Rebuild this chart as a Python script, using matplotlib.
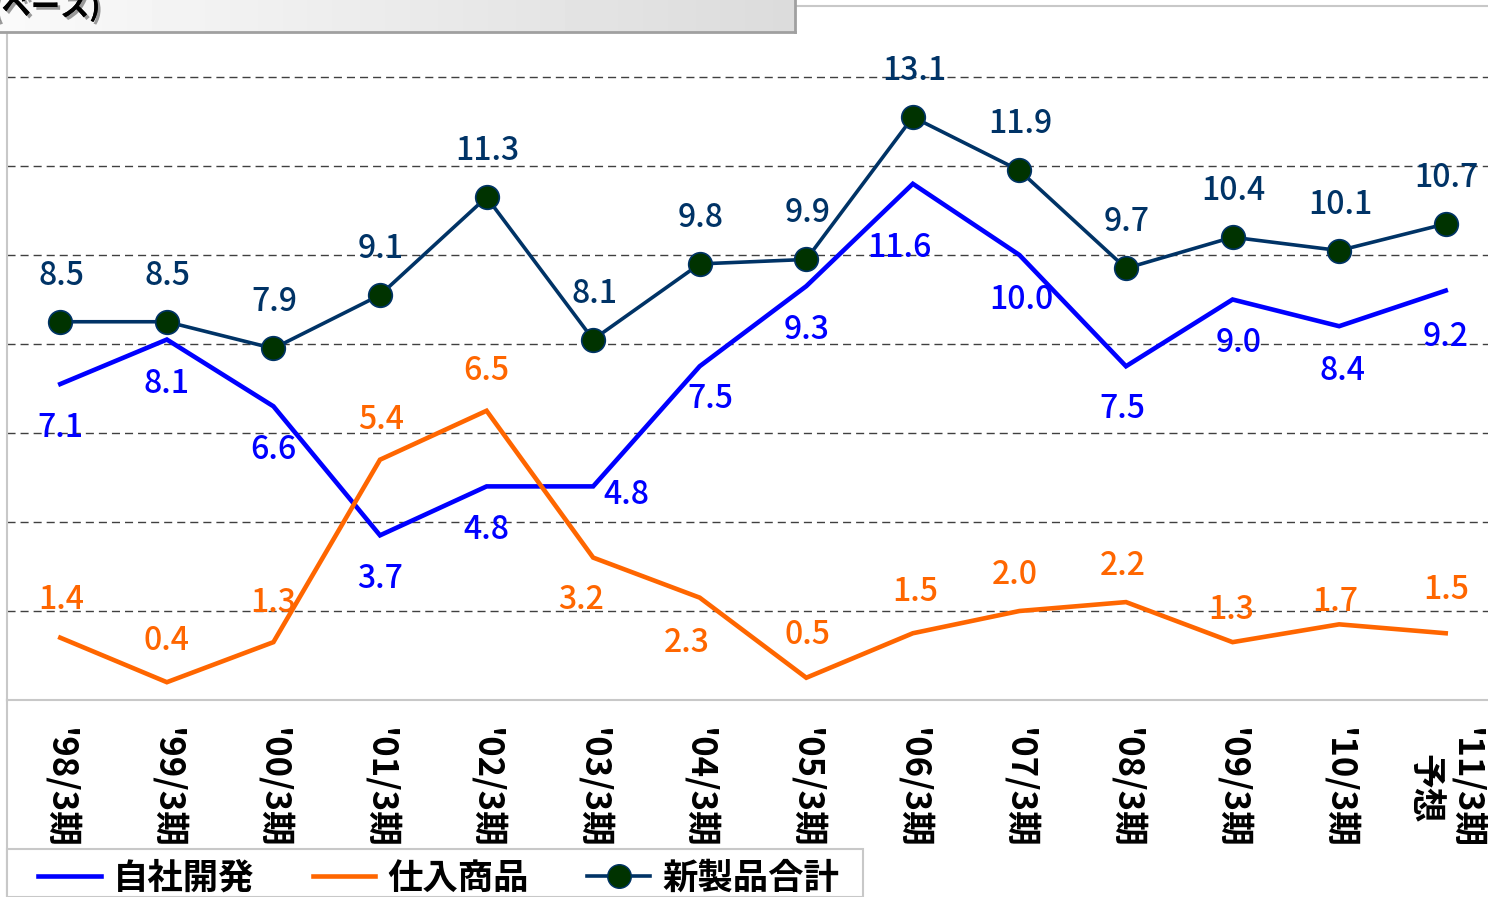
"""
新製品売上高比率 (自社開発 / 仕入商品 / 新製品合計) line chart.
"""
import matplotlib
matplotlib.use("Agg")
import matplotlib.pyplot as plt
import matplotlib.patheffects as pe
import numpy as np
from matplotlib.lines import Line2D
from matplotlib.patches import Rectangle

# --- data ---
PERIODS = ["'98/3期", "'99/3期", "'00/3期", "'01/3期", "'02/3期", "'03/3期", "'04/3期",
           "'05/3期", "'06/3期", "'07/3期", "'08/3期", "'09/3期", "'10/3期", "'11/3期\n予想"]
OWN_DEV = [7.1, 8.1, 6.6, 3.7, 4.8, 4.8, 7.5, 9.3, 11.6, 10.0, 7.5, 9.0, 8.4, 9.2]
PURCHASED = [1.4, 0.4, 1.3, 5.4, 6.5, 3.2, 2.3, 0.5, 1.5, 2.0, 2.2, 1.3, 1.7, 1.5]
TOTAL = [8.5, 8.5, 7.9, 9.1, 11.3, 8.1, 9.8, 9.9, 13.1, 11.9, 9.7, 10.4, 10.1, 10.7]
SERIES_NAMES = ["自社開発", "仕入商品", "新製品合計"]

# --- style ---
W, H = 1488, 897
FONT = ["Noto Sans CJK JP", "DejaVu Sans"]
BLUE = "#0000FF"
ORANGE = "#FF6600"
NAVY = "#003366"
MARKER_FILL = "#003300"
FRAME = "#c8c8c8"

# label offsets in pixels (dx, dy), per point
OWN_OFFS = [(0, -44)] * 5 + [(33, -9), (11, -33), (0, -44), (-13, -64), (2, -45),
                             (-4, -43), (6, -44), (3, -45), (0, -46)]
PUR_OFFS = [(1, 38), (0, 41), (0, 39), (1, 40), (0, 40), (-12, -42), (-13, -45),
            (1, 43), (2, 41), (-5, 36), (-3, 36), (-1, 32), (-4, 22), (1, 43)]
TOT_OFFS = [(1, 46)] * 14

plt.rcParams["font.family"] = FONT

fig = plt.figure(figsize=(W / 100, H / 100), dpi=100)
ax_left, ax_right = 7, 1499
ax_top, ax_bottom = 6, 700
ax = fig.add_axes([ax_left / W, 1 - ax_bottom / H,
                   (ax_right - ax_left) / W, (ax_bottom - ax_top) / H])

x = np.arange(len(PERIODS))
ax.plot(x, OWN_DEV, color=BLUE, lw=3.3, zorder=3, solid_joinstyle="miter")
ax.plot(x, PURCHASED, color=ORANGE, lw=3.3, zorder=3, solid_joinstyle="miter")
ax.plot(x, TOTAL, color=NAVY, lw=2.6, zorder=4, marker="o", ms=17,
        markerfacecolor=MARKER_FILL, markeredgecolor=NAVY, markeredgewidth=1.2)

for vals, offs, col in [(OWN_DEV, OWN_OFFS, BLUE), (PURCHASED, PUR_OFFS, ORANGE),
                        (TOTAL, TOT_OFFS, NAVY)]:
    for i, (v, (dx, dy)) in enumerate(zip(vals, offs)):
        ax.annotate(f"{v:.1f}", (i, v), xytext=(dx, dy), textcoords="offset pixels",
                    ha="center", va="center", fontsize=23, fontweight="medium",
                    color=col, zorder=5)

ax.set_xlim(-0.5, len(PERIODS) - 0.5)
ax.set_ylim(0, (ax_bottom - ax_top) / 44.5)
ax.set_yticks(np.arange(2, 15, 2))
ax.set_yticklabels([])
ax.tick_params(axis="y", length=0)
ax.yaxis.grid(True, color="#404040", lw=1.0, ls=(0, (5.8, 3.6)))
ax.set_axisbelow(True)

ax.set_xticks(x)
ax.set_xticklabels(PERIODS, rotation=270, fontsize=25, fontweight="bold",
                   va="top", ha="center", multialignment="center")
ax.tick_params(axis="x", length=0, pad=20)

for side in ["left", "bottom", "top"]:
    ax.spines[side].set_color(FRAME)
    ax.spines[side].set_linewidth(1.5)
ax.spines["right"].set_visible(False)

# frame line continuing below plot area
fig.add_artist(Line2D([ax_left / W] * 2, [0, 1 - ax_bottom / H],
                      color=FRAME, lw=1.5, transform=fig.transFigure))

# title box (mostly cut off at the top)
tax = fig.add_axes([0, 1 - 32 / H, 795 / W, 32 / H], zorder=10)
grad = np.linspace(0.98, 0.86, 256).reshape(1, -1)
tax.imshow(grad, cmap="gray", vmin=0, vmax=1, aspect="auto", extent=(0, 1, 0, 1))
tax.set_xticks([])
tax.set_yticks([])
for side in ["top", "left"]:
    tax.spines[side].set_visible(False)
for side in ["right", "bottom"]:
    tax.spines[side].set_color("#a0a0a0")
    tax.spines[side].set_linewidth(2)
fig.text(100 / W, 1 - 16 / H, "新製品売上高比率(ベース)", ha="right", va="baseline",
         fontsize=21, fontweight="bold", color="black", zorder=11,
         path_effects=[pe.withSimplePatchShadow(offset=(2, -2), shadow_rgbFace="#999999",
                                                alpha=1), pe.Normal()])

# legend: frame drawn as its own box, entries placed inside
fig.add_artist(Rectangle((ax_left / W, 0), (863 - ax_left) / W, 1 - 849 / H,
                         transform=fig.transFigure, facecolor="white",
                         edgecolor=FRAME, lw=1.5, zorder=20))
handles = [
    Line2D([], [], color=BLUE, lw=3.3),
    Line2D([], [], color=ORANGE, lw=3.3),
    Line2D([], [], color=NAVY, lw=2.6, marker="o", ms=17,
           markerfacecolor=MARKER_FILL, markeredgecolor=NAVY),
]
leg = fig.legend(handles, SERIES_NAMES, loc="center left",
                 bbox_to_anchor=(38 / W, 1 - 878 / H), ncol=3,
                 prop={"family": FONT, "size": 25.5, "weight": "bold"},
                 handlelength=1.77, handletextpad=0.34, columnspacing=1.65,
                 borderpad=0, borderaxespad=0, frameon=False)
leg.set_zorder(21)

fig.savefig("out.png", dpi=100)
